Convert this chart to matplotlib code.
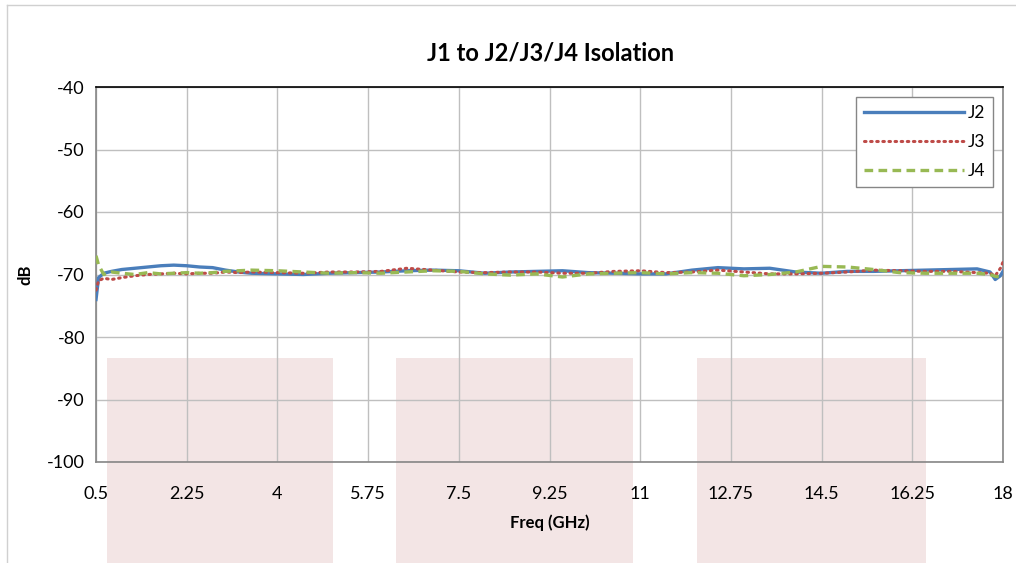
import matplotlib
matplotlib.use("Agg")
import matplotlib.pyplot as plt
from matplotlib.patches import Rectangle
from matplotlib.lines import Line2D

plt.rcParams['font.family'] = ['Lato', 'DejaVu Sans']
plt.rcParams['axes.unicode_minus'] = False

freq = [0.50, 0.55, 0.65, 0.80, 1.00, 1.25, 1.50, 1.75, 2.00, 2.25, 2.50, 2.75,
        3.00, 3.25, 3.50, 4.00, 4.50, 5.00, 5.50, 6.00, 6.50, 7.00, 7.50, 8.00,
        8.50, 9.00, 9.50, 10.00, 10.50, 11.00, 11.50, 12.00, 12.50, 13.00, 13.50,
        14.00, 14.50, 15.00, 15.50, 16.00, 16.50, 17.00, 17.50, 17.75, 17.85,
        17.95, 18.00]

j2 = [-74.0, -70.5, -69.8, -69.5, -69.2, -69.0, -68.8, -68.6, -68.5, -68.6, -68.8,
      -68.9, -69.3, -69.6, -69.8, -69.9, -70.0, -69.8, -69.7, -69.6, -69.4, -69.3,
      -69.4, -69.8, -69.6, -69.5, -69.4, -69.7, -69.8, -69.9, -69.9, -69.3, -68.9,
      -69.1, -69.0, -69.6, -69.8, -69.5, -69.5, -69.4, -69.3, -69.2, -69.1, -69.6,
      -70.8, -70.2, -69.5]

j3 = [-72.5, -71.0, -70.6, -70.8, -70.5, -70.2, -70.0, -69.9, -69.8, -69.9, -69.8,
      -69.8, -69.6, -69.7, -69.6, -69.7, -69.8, -69.6, -69.6, -69.5, -69.0, -69.3,
      -69.6, -69.7, -69.6, -69.6, -69.8, -69.8, -69.5, -69.4, -69.7, -69.6, -69.3,
      -69.6, -69.9, -69.9, -69.8, -69.6, -69.3, -69.4, -69.5, -69.5, -69.7, -69.8,
      -70.2, -69.0, -68.0]

j4 = [-67.0, -68.5, -70.0, -69.6, -69.8, -70.0, -69.7, -69.9, -69.8, -69.7, -69.8,
      -69.7, -69.5, -69.4, -69.3, -69.4, -69.6, -69.8, -69.7, -69.8, -69.6, -69.4,
      -69.5, -69.9, -70.1, -69.9, -70.4, -69.9, -69.8, -69.7, -69.9, -69.7, -69.8,
      -70.2, -70.0, -69.6, -68.7, -68.8, -69.2, -69.7, -69.8, -69.8, -69.8, -70.0,
      -70.3, -70.4, -70.6]

x_ticks = [0.5, 2.25, 4, 5.75, 7.5, 9.25, 11, 12.75, 14.5, 16.25, 18]
x_tick_labels = ['0.5', '2.25', '4', '5.75', '7.5', '9.25', '11', '12.75', '14.5', '16.25', '18']
y_ticks = [-100, -90, -80, -70, -60, -50, -40]

W, H = 1016, 563
fig = plt.figure(figsize=(W / 100, H / 100), dpi=100)

# figure frame (open at right/bottom as in the cropped reference)
fig.add_artist(Line2D([7 / W, 7 / W], [0, 1 - 5 / H], color='#d0d0d0', lw=1.0,
                      transform=fig.transFigure))
fig.add_artist(Line2D([7 / W, 1], [1 - 5 / H, 1 - 5 / H], color='#d0d0d0', lw=1.0,
                      transform=fig.transFigure))

# background pink blocks
for x0, x1 in [(107, 333), (396, 633), (697, 926)]:
    fig.add_artist(Rectangle((x0 / W, 0), (x1 - x0) / W, (563 - 358) / H,
                             transform=fig.transFigure, facecolor='#f3e5e5',
                             edgecolor='none', zorder=0))

ax = fig.add_axes([96 / W, (563 - 462) / H, (1003 - 96) / W, (462 - 87) / H])
ax.set_facecolor('none')
ax.set_zorder(1)

ax.plot(freq, j2, color='#4a7ebb', lw=2.4, label='J2', zorder=3)
ax.plot(freq, j3, color='#be4b48', lw=2.2, ls=(0, (0.5, 1.5)), dash_capstyle='round',
        label='J3', zorder=4)
ax.plot(freq, j4, color='#98b954', lw=2.4, ls=(0, (2.6, 1.6)), label='J4', zorder=5)

ax.set_xlim(0.5, 18)
ax.set_ylim(-100, -40)
ax.set_xticks(x_ticks)
ax.set_xticklabels(x_tick_labels)
ax.set_yticks(y_ticks)
ax.grid(True, color='#bfbfbf', lw=1.0)
ax.set_axisbelow(True)
ax.tick_params(axis='both', length=0, labelsize=13, colors='#000000')
ax.tick_params(axis='x', pad=17)
ax.tick_params(axis='y', pad=8)

for s in ['left', 'bottom', 'right']:
    ax.spines[s].set_color('#868686')
    ax.spines[s].set_linewidth(1.2)
ax.spines['top'].set_color('#000000')
ax.spines['top'].set_linewidth(1.2)

ax.set_xlabel('Freq (GHz)', fontsize=12, fontweight='bold', labelpad=9)
ax.set_ylabel('dB', fontsize=12, fontweight='bold', labelpad=10)

fig.text(0.542, 1 - 53 / H, 'J1 to J2/J3/J4 Isolation', ha='center', va='center',
         fontsize=17, fontweight='bold')

leg = ax.legend(loc='upper right', bbox_to_anchor=(993 / W, 1 - 97 / H),
                bbox_transform=fig.transFigure, fancybox=False, framealpha=1,
                edgecolor='#868686', fontsize=12.5, handlelength=5.8,
                borderpad=0.45, labelspacing=0.75, handletextpad=0.2, borderaxespad=0)
leg.get_frame().set_linewidth(1.0)

fig.savefig('out.png', dpi=100)
